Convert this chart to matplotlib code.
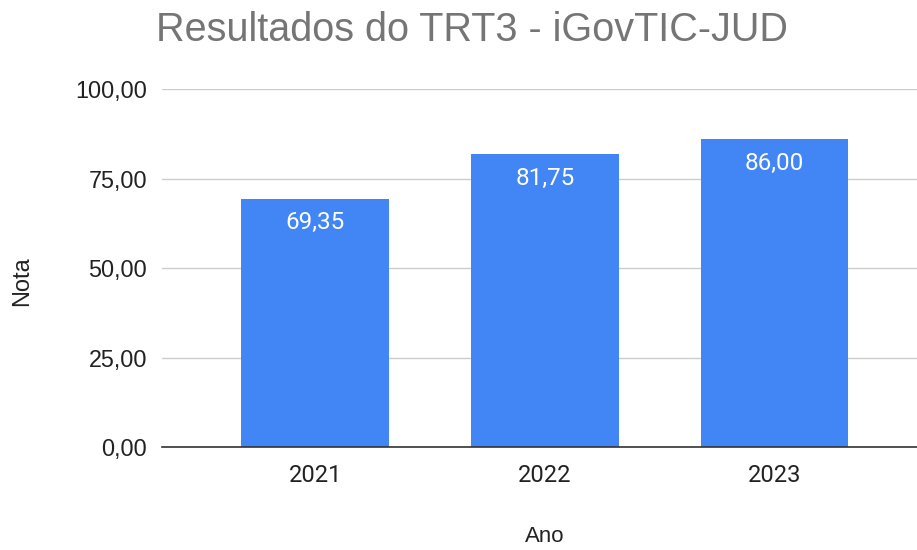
import matplotlib
matplotlib.use("Agg")
import matplotlib.pyplot as plt

years = ["2021", "2022", "2023"]
scores = [69.35, 81.75, 86.00]
y_ticks = [0, 25, 50, 75, 100]
y_tick_labels = ["0,00", "25,00", "50,00", "75,00", "100,00"]
bar_labels = ["69,35", "81,75", "86,00"]

plt.rcParams['font.family'] = ['Liberation Sans', 'DejaVu Sans']

fig = plt.figure(figsize=(9.17, 5.5), dpi=100)
ax = fig.add_axes([0.177, 0.187, 0.823, 0.651])

x = list(range(len(years)))
ax.bar(x, scores, width=0.643, color="#4285F4", zorder=3)
for xi, v, lab in zip(x, scores, bar_labels):
    ax.annotate(lab, (xi, v), xytext=(0, -24), textcoords="offset pixels",
                ha="center", va="center", color="white", fontsize=17.5,
                family=['Roboto', 'DejaVu Sans'], zorder=4)

ax.set_xlim(-0.665, 2.62)
ax.set_ylim(0, 100)
ax.set_yticks(y_ticks)
ax.set_yticklabels(y_tick_labels, fontsize=16.8, color="#222222")
ax.set_xticks(x)
ax.set_xticklabels(years, fontsize=17, color="#222222", family=['Roboto', 'DejaVu Sans'])
ax.tick_params(axis="both", length=0)
ax.tick_params(axis="y", pad=11)
ax.tick_params(axis="x", pad=12)
ax.grid(axis="y", color="#cccccc", linewidth=1, zorder=0)
for s in ["top", "right", "left"]:
    ax.spines[s].set_visible(False)
ax.spines["bottom"].set_color("#333333")
ax.spines["bottom"].set_linewidth(1.2)
ax.spines["bottom"].set_zorder(5)

fig.text(0.515, 0.9255, "Resultados do TRT3 - iGovTIC-JUD", ha="center", va="baseline",
         fontsize=28.5, color="#757575")
fig.text(0.024, 0.489, "Nota", rotation=90, ha="center", va="center", fontsize=17, color="#222222")
fig.text(0.594, 0.024, "Ano", ha="center", va="center", fontsize=16, color="#222222")

fig.savefig("out.png", dpi=100, facecolor="white")
